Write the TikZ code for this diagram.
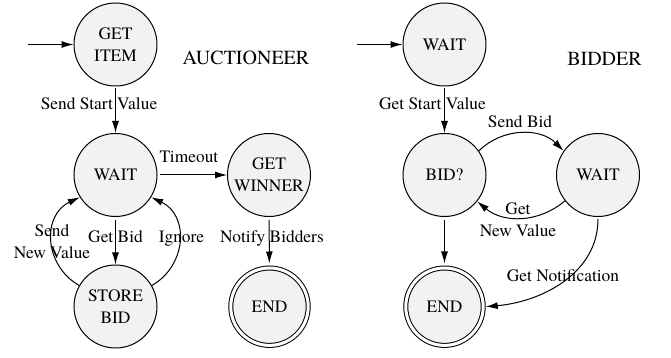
\documentclass[tikz,border=0pt]{standalone}
\usepackage{fontspec}
\setmainfont{TeX Gyre Termes}
\usetikzlibrary{arrows.meta}
\begin{document}
\begin{tikzpicture}[x=0.5pt,y=-0.5pt,
  state/.style={circle,draw,fill=gray!10,line width=0.5pt,minimum size=41.5pt,inner sep=0pt,align=center,font=\fontsize{8.7}{11}\selectfont},
  final/.style={state,minimum size=38.7pt,double,double distance=1.5pt,outer sep=1.25pt},
  lbl/.style={font=\fontsize{8.7}{11}\selectfont,inner sep=0pt,anchor=base},
  lblc/.style={lbl,anchor=center,align=center},
  ttl/.style={font=\fontsize{10}{12}\selectfont,inner sep=0pt,anchor=base},
  arr/.style={-{Latex[length=6pt,width=3.5pt]},line width=0.5pt},
]
\useasboundingbox (0,0) rectangle (671,358);
% Auctioneer
\node[state] (getitem) at (115.5,44.5) {GET\\ITEM};
\node[state] (wait) at (115.5,175) {WAIT};
\node[state] (winner) at (269,175) {GET\\WINNER};
\node[state] (store) at (115.5,306.5) {STORE\\BID};
\node[final] (endA) at (269.5,306.7) {END};
\coordinate (s1) at (28,44.5);
\node[ttl] (tA) at (246,65) {AUCTIONEER};

\draw[arr] (s1) -- (getitem);
\draw[arr,shorten <=0.75pt] (getitem) -- (wait);
\draw[arr,shorten <=1pt] (wait) -- (winner);
\draw[arr,shorten <=1.5pt,shorten >=1pt] (winner) -- (endA);
\draw[arr,shorten <=1.5pt] (wait) -- (store);
\draw[arr] (store.150) to[out=150,in=205,looseness=1.2] (wait.212);
\draw[arr] (store.30) to[out=30,in=-25,looseness=1.2] (wait.328);

\node[lbl] (l1) at (99,110) {Send Start Value};
\node[lbl] (l2) at (189,163) {Timeout};
\node[lbl] (l3) at (115.5,242.7) {Get Bid};
\node[lbl] (l4) at (181.5,242.7) {Ignore};
\node[lbl] (l5) at (272,242.7) {Notify Bidders};
\node[lblc] (l6) at (52,242) {Send\\New Value};

% Bidder
\node[state] (bwait) at (444.5,44.5) {WAIT};
\node[state] (bid) at (444.5,175) {BID?};
\node[state] (bwait2) at (598,175) {WAIT};
\node[final] (endB) at (444.5,306.7) {END};
\coordinate (s2) at (357,44.5);
\node[ttl] (tB) at (604.5,66) {BIDDER};

\draw[arr] (s2) -- (bwait);
\draw[arr,shorten <=0.75pt] (bwait) -- (bid);
\draw[arr] (bid.35) to[bend left=45] (bwait2.145);
\draw[arr] (bwait2.218) to[bend left=40] (bid.321);
\draw[arr,shorten <=1.5pt,shorten >=1pt] (bid) -- (endB);
\draw[arr,shorten <=1pt] (bwait2.270) to[out=-90,in=5] (endB.east);

\node[lbl] (m1) at (432.5,110) {Get Start Value};
\node[lbl] (m2) at (520,128) {Send Bid};
\node[lblc] (m3) at (518,220) {Get\\New Value};
\node[lbl] (m4) at (563,281.7) {Get Notification};
\end{tikzpicture}
\end{document}
